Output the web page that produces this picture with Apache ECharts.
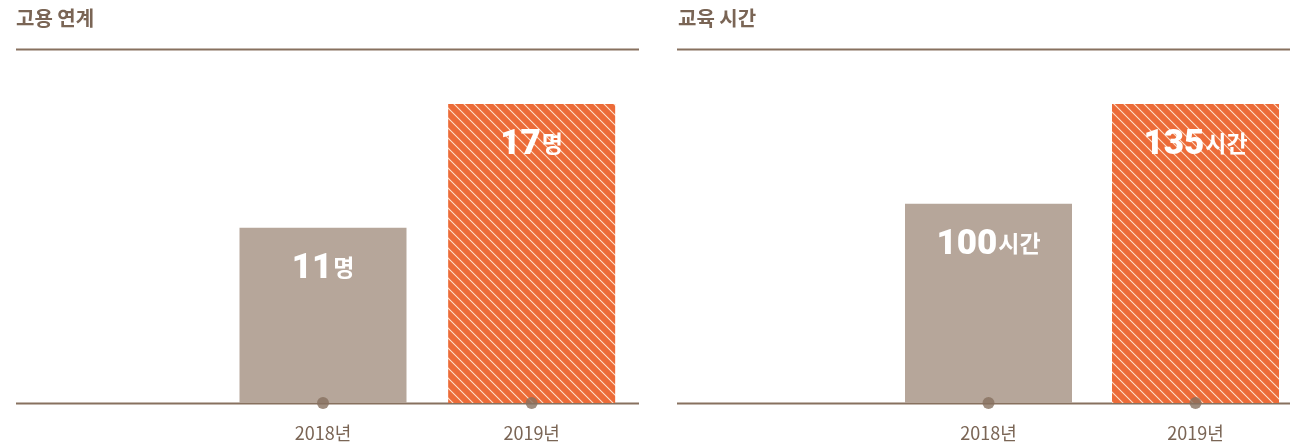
<!DOCTYPE html>
<html>
<head>
<meta charset="utf-8">
<script src="https://cdn.jsdelivr.net/npm/echarts@6/dist/echarts.min.js"></script>
<style>
  html, body { margin: 0; padding: 0; background: #fff; overflow: hidden; }
  #main { width: 1300px; height: 447px; }
</style>
</head>
<body>
<div id="main"></div>
<script>
// 카테고리와 값
const categories = ["", "2018년", "2019년"];
const hireValues = [null, 11, 17];
const eduValues = [null, 100, 135];
const hireUnit = "명";
const eduUnit = "시간";
const titles = ["고용 연계", "교육 시간"];

const brown = "#7a6555";
const lineBrown = "#87715f";
const gray = "#b6a69a";
const orange = "#ec6b38";

// 사선 패턴
function makeStripe() {
  const c = document.createElement("canvas");
  c.width = 10;
  c.height = 10;
  const ctx = c.getContext("2d");
  ctx.fillStyle = orange;
  ctx.fillRect(0, 0, 10, 10);
  ctx.strokeStyle = "rgba(255,232,214,0.95)";
  ctx.lineWidth = 1.1;
  for (let k = -1; k <= 1; k++) {
    ctx.beginPath();
    ctx.moveTo(k * 10 - 2, -2);
    ctx.lineTo(k * 10 + 12, 12);
    ctx.stroke();
  }
  return c;
}
const stripe = { image: makeStripe(), repeat: "repeat" };

function barData(values) {
  return values.map((v, i) => {
    if (v == null) return null;
    return {
      value: v,
      itemStyle: { color: i === values.length - 1 ? stripe : gray },
    };
  });
}

function labelOpt(unit) {
  return {
    show: true,
    position: "insideTop",
    distance: 24,
    formatter: (p) => "{n|" + p.value + "}{u|" + unit + "}",
    rich: {
      n: { fontFamily: "Roboto", fontWeight: 900, fontSize: 35, color: "#fff" },
      u: { fontFamily: "Noto Sans CJK KR", fontWeight: "bold", fontSize: 23, color: "#fff", padding: [0, 0, 4, 1] },
    },
  };
}

const yMins = [2.5, 30];
const yMaxs = [17, 135];

function xAxisOpt(gi) {
  return {
    type: "category",
    gridIndex: gi,
    data: categories,
    axisLine: { show: false },
    axisTick: { show: false },
    axisLabel: { color: brown, fontSize: 18, margin: 21, fontFamily: "Noto Sans CJK KR" },
  };
}
function yAxisOpt(gi) {
  return {
    type: "value",
    gridIndex: gi,
    min: yMins[gi],
    max: yMaxs[gi],
    show: false,
  };
}

const ruleStyle = { stroke: lineBrown, lineWidth: 2 };

let myChart = echarts.init(document.getElementById("main"));
myChart.setOption({
  animation: false,
  title: [
    { text: titles[0], left: 11, top: 3, textStyle: { color: brown, fontSize: 20, fontWeight: "bold", fontFamily: "Noto Sans CJK KR" } },
    { text: titles[1], left: 673, top: 3, textStyle: { color: brown, fontSize: 20, fontWeight: "bold", fontFamily: "Noto Sans CJK KR" } },
  ],
  graphic: [
    { type: "line", shape: { x1: 16, y1: 49.5, x2: 639, y2: 49.5 }, style: ruleStyle },
    { type: "line", shape: { x1: 677, y1: 49.5, x2: 1290, y2: 49.5 }, style: ruleStyle },
    { type: "line", shape: { x1: 16, y1: 403.5, x2: 639, y2: 403.5 }, style: ruleStyle, z: 1 },
    { type: "line", shape: { x1: 677, y1: 403.5, x2: 1290, y2: 403.5 }, style: ruleStyle, z: 1 },
  ],
  grid: [
    { left: 10, top: 104, width: 626, height: 299 },
    { left: 678, top: 104, width: 621, height: 299 },
  ],
  xAxis: [xAxisOpt(0), xAxisOpt(1)],
  yAxis: [yAxisOpt(0), yAxisOpt(1)],
  series: [
    {
      type: "bar",
      xAxisIndex: 0,
      yAxisIndex: 0,
      barWidth: 167,
      data: barData(hireValues),
      label: labelOpt(hireUnit),
    },
    {
      type: "bar",
      xAxisIndex: 1,
      yAxisIndex: 1,
      barWidth: 167,
      data: barData(eduValues),
      label: labelOpt(eduUnit),
    },
    {
      type: "scatter",
      xAxisIndex: 0,
      yAxisIndex: 0,
      symbolSize: 12,
      clip: false,
      z: 5,
      itemStyle: { color: lineBrown },
      data: categories.slice(1).map((c) => [c, yMins[0]]),
    },
    {
      type: "scatter",
      xAxisIndex: 1,
      yAxisIndex: 1,
      symbolSize: 12,
      clip: false,
      z: 5,
      itemStyle: { color: lineBrown },
      data: categories.slice(1).map((c) => [c, yMins[1]]),
    },
  ],
});
</script>
</body>
</html>
